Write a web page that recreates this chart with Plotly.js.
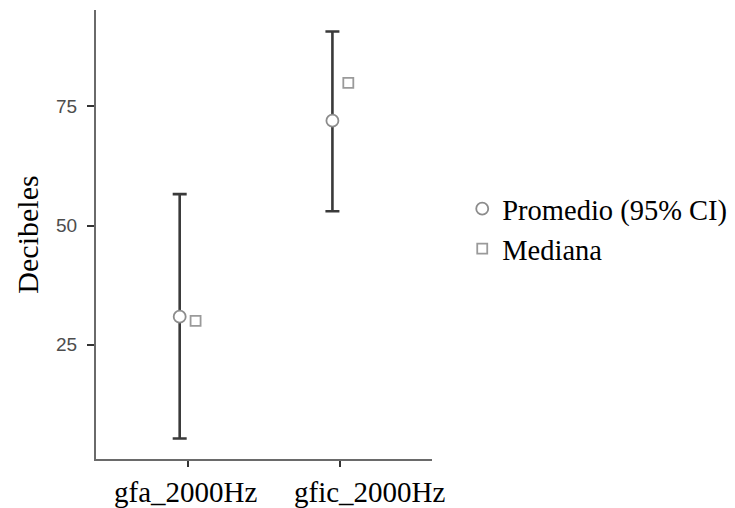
<!DOCTYPE html>
<html>
<head>
<meta charset="utf-8">
<script src="https://cdn.plot.ly/plotly-3.0.1.min.js"></script>
<style>html,body{margin:0;padding:0;background:#fff;}#chart{width:735px;height:508px;}</style>
</head>
<body>
<div id="chart"></div>
<script>
const categories = ["gfa_2000Hz", "gfic_2000Hz"];
const meanValues = [30.9, 72.0];
const ciLower = [5.35, 53.0];
const ciUpper = [56.6, 90.7];
const medianValues = [30.0, 79.9];
const yTickVals = [25, 50, 75];

// horizontal pixel nudges of the category labels, as seen in the reference
const labelShift = [-2, 30];
const dodge = 0.052;
const idx = categories.map((c, i) => i);

const meanTrace = {
  type: 'scatter', mode: 'markers', name: 'Promedio (95% CI)',
  x: idx.map(i => i - dodge), y: meanValues,
  marker: {symbol: 'circle', size: 12, color: '#ffffff', line: {color: '#8c8c8c', width: 1.8}},
  error_y: {type: 'data', symmetric: false,
    array: meanValues.map((m, i) => ciUpper[i] - m),
    arrayminus: meanValues.map((m, i) => m - ciLower[i]),
    color: '#3a3a3a', thickness: 2.6, width: 7},
  hoverinfo: 'skip'
};
const medianTrace = {
  type: 'scatter', mode: 'markers', name: 'Mediana',
  x: idx.map(i => i + dodge), y: medianValues,
  marker: {symbol: 'square', size: 10, color: '#ffffff', line: {color: '#9a9a9a', width: 1.8}},
  hoverinfo: 'skip'
};

const labelAnnotations = categories.map((c, i) => ({
  text: c, x: i, xref: 'x', y: 0, yref: 'paper',
  xanchor: 'center', yanchor: 'top', yshift: -15, xshift: labelShift[i],
  showarrow: false,
  font: {family: 'Liberation Serif, Times New Roman, serif', size: 29, color: '#000000'}
}));

const layout = {
  width: 735, height: 508,
  margin: {l: 96, r: 303, t: 10, b: 49, autoexpand: false},
  paper_bgcolor: '#ffffff', plot_bgcolor: '#ffffff',
  showlegend: true,
  legend: {x: 1.09, xanchor: 'left', y: 0.512, yanchor: 'middle',
    font: {family: 'Liberation Serif, Times New Roman, serif', size: 28.5, color: '#000000'},
    itemwidth: 30, tracegroupgap: 0, bgcolor: 'rgba(0,0,0,0)'},
  annotations: labelAnnotations,
  xaxis: {
    range: [-0.6, 1.6], tickmode: 'array', tickvals: idx, ticktext: categories,
    showticklabels: false, automargin: false,
    showgrid: false, zeroline: false, showline: true, linecolor: '#6a6a6a', linewidth: 2,
    ticks: 'outside', ticklen: 6, tickwidth: 2, tickcolor: '#333333'
  },
  yaxis: {
    range: [1.05, 95.2], tickmode: 'array', tickvals: yTickVals,
    automargin: false,
    showgrid: false, zeroline: false, showline: true, linecolor: '#6a6a6a', linewidth: 2,
    ticks: 'outside', ticklen: 7, tickwidth: 2, tickcolor: '#333333',
    tickfont: {family: 'Liberation Sans, Arial, sans-serif', size: 19, color: '#4d4d4d'},
    ticklabelstandoff: 6,
    title: {text: 'Decibeles', standoff: 9,
      font: {family: 'Liberation Serif, Times New Roman, serif', size: 30, color: '#000000'}}
  }
};

Plotly.newPlot('chart', [meanTrace, medianTrace], layout, {displayModeBar: false, staticPlot: true});
</script>
</body>
</html>
